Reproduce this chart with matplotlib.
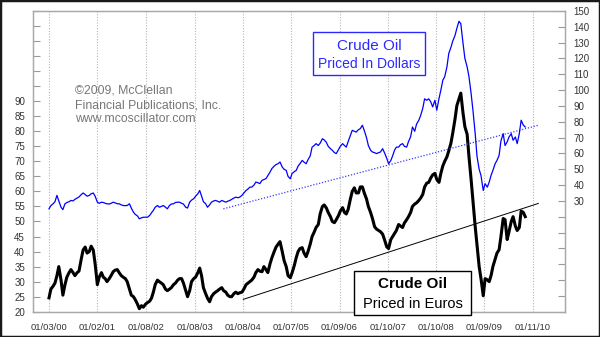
import matplotlib
matplotlib.use('Agg')
import matplotlib.pyplot as plt
from matplotlib.patches import Rectangle
import pandas as pd

# ---------------- data (semi-monthly readings, Jan 2000 - Nov 2009) ----------------
usd_price = [
    # 2000
    25.0, 27.0, 28.2, 29.5, 33.5, 30.0, 26.0, 24.5, 28.2, 29.0, 29.5, 30.3,
    30.0, 31.0, 31.8, 32.5, 34.0, 35.0, 34.0, 33.0, 33.5, 34.5, 35.0, 33.0,
    # 2001
    29.2, 28.5, 29.2, 29.0, 28.5, 28.2, 28.0, 28.5, 29.2, 28.8, 28.2, 28.2,
    27.5, 27.1, 27.0, 27.1, 28.2, 25.5, 22.9, 21.5, 20.5, 18.7, 19.3, 19.7,
    # 2002
    19.7, 19.7, 20.8, 22.5, 24.0, 26.0, 27.1, 26.0, 26.5, 27.1, 26.0, 25.0,
    27.1, 28.0, 28.2, 29.0, 29.2, 29.2, 28.5, 28.0, 26.0, 25.5, 29.2, 30.5,
    # 2003
    31.4, 33.0, 34.5, 36.6, 33.0, 29.5, 28.2, 26.0, 27.5, 29.2, 30.0, 30.3,
    29.8, 29.2, 30.3, 29.8, 29.2, 29.8, 30.3, 31.0, 31.8, 32.4, 32.0, 32.4,
    # 2004
    33.5, 35.0, 36.6, 37.5, 38.7, 38.7, 40.0, 41.9, 41.5, 40.9, 43.0, 43.5,
    44.1, 46.0, 48.3, 50.5, 52.0, 53.0, 53.5, 54.6, 51.4, 50.0, 49.3, 45.5,
    # 2005
    44.0, 47.4, 48.5, 49.3, 52.0, 53.5, 55.6, 54.5, 53.5, 56.0, 58.5, 64.0,
    65.0, 66.2, 65.0, 66.5, 69.3, 68.5, 67.0, 64.5, 63.0, 62.0, 60.5, 59.9,
    # 2006
    62.5, 64.5, 66.2, 65.0, 64.0, 67.5, 71.5, 74.6, 74.0, 73.5, 75.0, 75.7,
    77.8, 74.5, 70.0, 65.0, 62.0, 60.9, 60.5, 59.9, 60.5, 60.9, 63.0, 60.5,
    # 2007
    57.0, 53.5, 55.5, 58.5, 62.0, 64.0, 64.0, 65.5, 66.2, 64.5, 64.0, 67.5,
    70.5, 76.7, 74.0, 78.5, 81.0, 84.0, 88.5, 94.5, 93.6, 94.5, 92.5, 89.4,
    # 2008
    93.6, 87.3, 94.7, 100.0, 106.3, 108.4, 114.7, 123.2, 127.0, 131.0, 134.5, 139.0,
    143.5, 142.0, 129.5, 120.0, 114.7, 108.4, 97.9, 87.3, 72.5, 58.0, 50.0, 46.0,
    # 2009
    36.6, 40.9, 38.7, 41.9, 46.1, 49.3, 53.5, 55.6, 58.8, 68.0, 72.5, 65.0,
    67.3, 70.4, 72.5, 68.3, 70.4, 66.2, 72.5, 81.0, 77.8, 76.7,
]

eur_price = [
    # 2000
    24.6, 27.5, 28.5, 29.5, 32.0, 35.0, 30.5, 25.5, 29.0, 31.5, 33.0, 34.0,
    33.0, 32.0, 33.0, 33.5, 37.5, 40.5, 41.5, 39.5, 40.0, 41.8, 40.5, 36.0,
    # 2001
    29.0, 31.5, 33.0, 31.5, 31.0, 30.0, 31.0, 32.0, 33.3, 33.8, 34.0, 33.0,
    32.0, 31.5, 31.0, 30.0, 27.5, 25.5, 25.0, 24.0, 22.5, 21.0, 22.0, 21.5,
    # 2002
    22.5, 23.0, 23.5, 24.5, 26.5, 29.0, 30.5, 30.0, 29.5, 29.0, 27.5, 27.0,
    27.5, 28.0, 29.0, 29.5, 30.5, 31.0, 31.0, 29.5, 27.0, 25.0, 27.0, 30.0,
    # 2003
    31.0, 31.5, 33.0, 34.5, 32.0, 28.0, 26.0, 24.5, 23.3, 25.0, 26.0, 26.5,
    27.0, 27.5, 28.0, 27.0, 26.5, 25.5, 25.0, 25.0, 26.0, 26.5, 26.0, 26.3,
    # 2004
    26.5, 27.5, 29.0, 29.5, 30.0, 30.5, 31.5, 33.0, 34.0, 33.5, 33.3, 35.0,
    34.0, 33.0, 36.0, 38.0, 40.0, 41.5, 42.5, 43.3, 40.0, 37.0, 35.0, 32.0,
    # 2005
    31.3, 33.0, 35.5, 38.0, 40.0, 41.0, 41.3, 39.5, 38.3, 40.0, 42.5, 45.0,
    46.5, 48.0, 49.0, 52.5, 55.0, 55.5, 54.5, 53.0, 51.6, 50.0, 49.6, 50.6,
    # 2006
    52.0, 53.5, 54.6, 53.0, 52.5, 54.0, 57.5, 60.0, 61.2, 59.5, 59.5, 61.5,
    61.5, 59.5, 57.5, 55.0, 53.0, 51.0, 48.3, 47.5, 47.0, 46.6, 45.8, 44.0,
    # 2007
    41.6, 41.0, 44.0, 45.0, 46.0, 47.0, 49.0, 48.5, 48.0, 49.5, 50.6, 51.6,
    53.0, 55.0, 55.8, 56.2, 57.0, 57.8, 59.0, 61.5, 62.8, 63.0, 64.5, 65.5,
    # 2008
    66.0, 64.0, 63.0, 66.0, 68.5, 70.0, 71.5, 73.5, 76.0, 79.4, 84.0, 88.5,
    90.8, 92.7, 86.0, 81.5, 79.0, 71.5, 64.0, 57.0, 48.3, 42.0, 35.0, 31.0,
    # 2009
    25.3, 31.0, 30.6, 30.0, 32.0, 35.0, 37.5, 39.5, 40.6, 45.0, 51.0, 50.6,
    44.0, 46.6, 50.0, 51.6, 48.5, 47.0, 48.0, 53.5, 53.0, 51.6,
]

usd_trend_dates = ['2003-08-13', '2010-02-22']
usd_trend_values = [25.0, 77.8]
eur_trend_dates = ['2004-01-11', '2010-02-22']
eur_trend_values = [24.1, 56.0]

xtick_labels = ['01/03/00', '01/02/01', '01/08/02', '01/08/03', '01/08/04', '01/07/05',
                '01/09/06', '01/10/07', '01/10/08', '01/09/09', '01/11/10']

# ---------------- drawing ----------------
plt.rcParams['font.family'] = ['Liberation Sans', 'DejaVu Sans']

W, H = 600, 337
fig = plt.figure(figsize=(6, 3.37), dpi=100)
fig.patch.set_facecolor('white')

def fy(py):
    return 1 - py / H

ax = fig.add_axes([33.3 / W, fy(311.7), (565 - 33.3) / W, (311.7 - 11) / H])
ax2 = ax.twinx()

dates = pd.date_range('2000-01-01', periods=len(usd_price), freq='SMS')

ax2.plot(dates, usd_price, color='#0000ff', lw=0.9, zorder=3)
ax2.plot(pd.to_datetime(usd_trend_dates), usd_trend_values, color='#3a3aff',
         lw=0.9, ls=(0, (1, 1.4)), zorder=2)

ax.plot(dates, eur_price, color='black', lw=2.2, zorder=3, solid_joinstyle='round')
ax.plot(pd.to_datetime(eur_trend_dates), eur_trend_values, color='black', lw=0.7, zorder=2)

ax.set_xlim(pd.Timestamp('1999-09-04'), pd.Timestamp('2010-09-12'))
xticks = pd.to_datetime(xtick_labels, format='%m/%d/%y')
ax.set_xticks(xticks)
ax.set_xticklabels(xtick_labels)
ax.tick_params(axis='x', length=0, pad=8, labelsize=6.8, labelcolor='#333333')
ax.grid(axis='x', color='#b5b5b5', ls=(0, (1, 1.5)), lw=0.8)
ax.set_axisbelow(True)

ax.set_ylim(20, 120)
lt = list(range(20, 121, 5))
ax.set_yticks(lt)
ax.set_yticklabels([str(v) if v <= 90 else '' for v in lt])
ax.tick_params(axis='y', direction='in', length=5, width=0.8, color='#9a9a9a',
               pad=6, labelsize=7, labelcolor='#333333')

ax2.set_ylim(-40, 150)
rt = list(range(-40, 151, 10))
ax2.set_yticks(rt)
ax2.set_yticklabels([str(v) if v >= 30 else '' for v in rt])
ax2.tick_params(axis='y', direction='in', length=5, width=0.8, color='#9a9a9a',
                pad=6, labelsize=7, labelcolor='#333333')

for a in (ax, ax2):
    for s in a.spines.values():
        s.set_color('#a8a8a8')
        s.set_linewidth(0.9)

# watermark
for txt, py in [('©2009, McClellan', 90.5), ('Financial Publications, Inc.', 105),
                ('www.mcoscillator.com', 119.5)]:
    fig.text(75 / W, fy(py), txt, fontsize=8.8, color='#777777', ha='left', va='center')

# dollar box
fig.add_artist(Rectangle((313.3 / W, fy(75)), (425 - 313.3) / W, (75 - 32.3) / H,
                         transform=fig.transFigure, facecolor='white',
                         edgecolor='#2a2aff', lw=1.0, zorder=5))
fig.text(369.3 / W, fy(45.7), 'Crude Oil', fontsize=11, color='#2a2aff',
         ha='center', va='center', zorder=6)
fig.text(368.7 / W, fy(64.3), 'Priced In Dollars', fontsize=10, color='#2a2aff',
         ha='center', va='center', zorder=6)

# euro box
fig.add_artist(Rectangle((354 / W, fy(315.3)), (471 - 354) / W, (315.3 - 271.3) / H,
                         transform=fig.transFigure, facecolor='white',
                         edgecolor='black', lw=1.0, zorder=5))
fig.text(412.5 / W, fy(283.7), 'Crude Oil', fontsize=11, fontweight='bold', color='black',
         ha='center', va='center', zorder=6)
fig.text(412.5 / W, fy(304.3), 'Priced in Euros', fontsize=10.5, color='black',
         ha='center', va='center', zorder=6)

# outer border
fig.add_artist(Rectangle((0, 0), 1, 1, transform=fig.transFigure, fill=False,
                         edgecolor='#1a1a1a', lw=2.5, zorder=10))

fig.savefig('out.png', dpi=100, facecolor=fig.get_facecolor())
